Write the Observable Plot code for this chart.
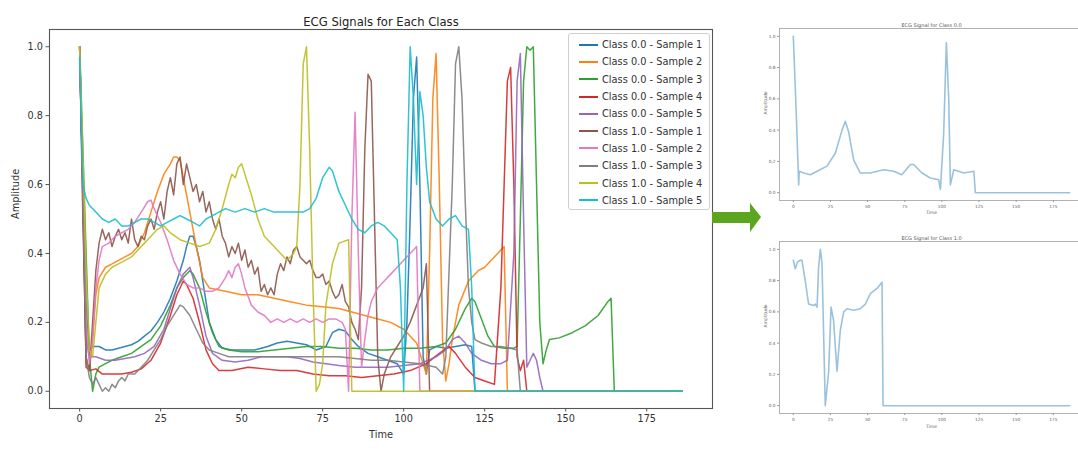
<!DOCTYPE html>
<html>
<head>
<meta charset="utf-8">
<script src="https://cdn.jsdelivr.net/npm/d3@7"></script>
<script src="https://cdn.jsdelivr.net/npm/@observablehq/plot@0.6"></script>
<style>
  html, body { margin: 0; padding: 0; background: #fff; }
  #fig { position: relative; width: 1078px; height: 459px; overflow: hidden; background: #fff; font-family: "DejaVu Sans", sans-serif; }
  #fig > * { position: absolute; }
  .legend { box-sizing: border-box; border: 1px solid #cfcfcf; border-radius: 3px; background: rgba(255,255,255,0.85); padding: 2px 0 0 10px; font-size: 9.8px; color: #333; }
  .legend .row { height: 17.3px; display: flex; align-items: center; white-space: nowrap; }
  .legend .sw { width: 19px; height: 2px; margin-right: 4px; }
</style>
</head>
<body>
<div id="fig"></div>
<script>
// ---------- data ----------
const seriesLabels = [
  "Class 0.0 - Sample 1", "Class 0.0 - Sample 2", "Class 0.0 - Sample 3",
  "Class 0.0 - Sample 4", "Class 0.0 - Sample 5", "Class 1.0 - Sample 1",
  "Class 1.0 - Sample 2", "Class 1.0 - Sample 3", "Class 1.0 - Sample 4",
  "Class 1.0 - Sample 5"
];
const seriesColors = ["#1f77b4", "#ff7f0e", "#2ca02c", "#d62728", "#9467bd",
                      "#8c564b", "#e377c2", "#7f7f7f", "#bcbd22", "#17becf"];

const c0s1 = [[0,0.97],[1,0.6],[2,0.25],[3,0.12],[4,0.13],[6,0.13],[8,0.12],[10,0.12],[12,0.125],[14,0.13],[16,0.135],[18,0.145],[20,0.16],[22,0.175],[24,0.2],[26,0.23],[28,0.27],[30,0.32],[32,0.38],[33,0.42],[34,0.45],[35,0.45],[36,0.42],[37,0.38],[38,0.32],[39,0.26],[40,0.2],[42,0.15],[44,0.125],[47,0.12],[50,0.12],[54,0.12],[58,0.13],[61,0.14],[64,0.145],[67,0.14],[70,0.135],[73,0.12],[76,0.13],[78,0.17],[80,0.18],[82,0.175],[84,0.15],[86,0.13],[89,0.11],[92,0.1],[95,0.09],[98,0.08],[100,0.05],[101,0.2],[102,0.5],[103,0.85],[104,0.97],[105,0.6],[106,0.1],[107,0.05],[108,0.12],[110,0.13],[113,0.125],[116,0.13],[119,0.135],[121,0.13],[122,0.0],[186,0.0]];
const c0s2 = [[0,1.0],[1,0.6],[2,0.08],[3,0.06],[4,0.15],[5,0.28],[6,0.33],[8,0.36],[10,0.37],[12,0.38],[14,0.39],[16,0.4],[18,0.42],[20,0.46],[22,0.52],[24,0.58],[26,0.63],[28,0.66],[29,0.68],[30,0.68],[31,0.67],[32,0.62],[34,0.52],[36,0.42],[38,0.33],[40,0.3],[45,0.29],[50,0.28],[55,0.28],[60,0.27],[65,0.26],[70,0.25],[75,0.245],[80,0.24],[84,0.23],[88,0.22],[92,0.21],[96,0.2],[100,0.18],[104,0.14],[106,0.08],[107,0.05],[108,0.4],[109,0.85],[110,0.98],[111,0.6],[112,0.15],[113,0.03],[114,0.08],[115,0.15],[117,0.25],[120,0.32],[123,0.35],[125,0.36],[127,0.38],[130,0.41],[131,0.42],[132,0.0],[186,0.0]];
const c0s3 = [[0,1.0],[1,0.7],[2,0.4],[3,0.1],[4,0.0],[5,0.05],[6,0.07],[8,0.08],[10,0.09],[13,0.1],[16,0.11],[19,0.13],[22,0.15],[25,0.19],[28,0.25],[30,0.3],[32,0.33],[34,0.35],[35,0.34],[37,0.3],[39,0.23],[41,0.17],[43,0.13],[46,0.12],[50,0.115],[55,0.115],[60,0.12],[65,0.125],[70,0.13],[75,0.13],[80,0.125],[85,0.125],[90,0.12],[95,0.12],[100,0.125],[105,0.125],[110,0.13],[113,0.14],[116,0.18],[119,0.24],[121,0.27],[122,0.26],[124,0.21],[126,0.16],[128,0.13],[131,0.125],[134,0.125],[135,0.13],[136,0.5],[137,0.9],[138,1.0],[139,0.99],[140,1.0],[141,0.6],[142,0.2],[143,0.08],[144,0.12],[145,0.15],[148,0.155],[152,0.17],[156,0.19],[160,0.22],[163,0.26],[164,0.27],[165,0.0],[186,0.0]];
const c0s4 = [[0,1.0],[1,0.55],[2,0.07],[3,0.06],[5,0.065],[7,0.05],[10,0.05],[13,0.05],[16,0.055],[19,0.065],[22,0.09],[25,0.14],[28,0.22],[30,0.28],[32,0.32],[33,0.31],[35,0.27],[37,0.2],[39,0.12],[41,0.08],[43,0.06],[47,0.06],[52,0.07],[57,0.065],[62,0.06],[67,0.06],[72,0.05],[77,0.045],[82,0.045],[87,0.04],[92,0.045],[97,0.05],[102,0.06],[107,0.08],[111,0.11],[114,0.13],[116,0.11],[119,0.07],[122,0.04],[125,0.03],[128,0.02],[130,0.3],[132,0.9],[133,0.94],[134,0.6],[135,0.1],[136,0.06],[137,0.09],[138,0.0],[186,0.0]];
const c0s5 = [[0,1.0],[1,0.6],[2,0.15],[3,0.1],[5,0.1],[8,0.09],[11,0.09],[14,0.095],[17,0.1],[20,0.11],[23,0.13],[26,0.18],[28,0.24],[30,0.3],[32,0.34],[34,0.36],[35,0.33],[37,0.25],[39,0.16],[41,0.11],[44,0.09],[48,0.085],[52,0.09],[56,0.1],[60,0.1],[64,0.1],[68,0.095],[72,0.085],[76,0.08],[80,0.075],[85,0.07],[90,0.07],[95,0.07],[100,0.075],[105,0.08],[110,0.1],[113,0.12],[115,0.15],[117,0.16],[119,0.14],[121,0.11],[124,0.09],[127,0.08],[130,0.08],[132,0.09],[134,0.4],[135,0.9],[136,0.98],[137,0.5],[138,0.07],[139,0.09],[140,0.11],[141,0.09],[142,0.04],[143,0.0],[186,0.0]];
const c1s1 = [[0,1.0],[1,0.5],[2,0.1],[3,0.06],[4,0.2],[5,0.35],[6,0.43],[7,0.47],[8,0.44],[9,0.46],[10,0.42],[11,0.45],[12,0.47],[13,0.44],[14,0.46],[15,0.43],[16,0.5],[17,0.44],[18,0.42],[19,0.45],[20,0.44],[21,0.48],[22,0.5],[23,0.47],[24,0.52],[25,0.55],[26,0.5],[27,0.58],[28,0.62],[29,0.57],[30,0.66],[31,0.68],[32,0.6],[33,0.66],[34,0.62],[35,0.58],[36,0.6],[37,0.55],[38,0.58],[39,0.52],[40,0.55],[41,0.5],[42,0.47],[43,0.5],[44,0.45],[45,0.43],[46,0.39],[47,0.42],[48,0.4],[49,0.43],[50,0.38],[51,0.41],[52,0.36],[53,0.38],[54,0.34],[55,0.36],[56,0.29],[57,0.31],[58,0.28],[59,0.3],[60,0.28],[61,0.34],[62,0.37],[63,0.35],[64,0.39],[65,0.37],[66,0.41],[67,0.42],[68,0.39],[69,0.38],[70,0.37],[71,0.38],[72,0.35],[73,0.33],[74,0.33],[75,0.34],[76,0.31],[77,0.32],[78,0.29],[79,0.27],[80,0.28],[81,0.31],[82,0.26],[83,0.245],[84,0.2],[85,0.18],[86,0.15],[87,0.3],[88,0.7],[89,0.92],[90,0.9],[91,0.5],[92,0.1],[93,0.0],[94,0.05],[96,0.1],[98,0.13],[100,0.16],[102,0.2],[104,0.25],[106,0.3],[107,0.37],[108,0.0],[186,0.0]];
const c1s2 = [[0,1.0],[1,0.6],[2,0.2],[3,0.08],[4,0.15],[5,0.3],[6,0.38],[7,0.42],[9,0.43],[11,0.45],[13,0.46],[15,0.47],[17,0.49],[19,0.52],[21,0.55],[22,0.555],[23,0.53],[25,0.49],[27,0.44],[29,0.38],[31,0.34],[33,0.31],[35,0.3],[37,0.3],[39,0.29],[41,0.29],[43,0.3],[45,0.33],[46,0.35],[47,0.33],[48,0.36],[49,0.37],[50,0.34],[51,0.3],[53,0.25],[55,0.23],[57,0.22],[59,0.2],[61,0.21],[63,0.2],[65,0.21],[67,0.2],[69,0.21],[71,0.2],[73,0.21],[75,0.2],[77,0.21],[79,0.21],[81,0.2],[82,0.18],[83,0.0],[84,0.5],[85,0.81],[86,0.4],[87,0.07],[88,0.15],[89,0.22],[90,0.26],[92,0.3],[94,0.32],[96,0.34],[98,0.36],[100,0.38],[102,0.4],[104,0.42],[105,0.0],[186,0.0]];
const c1s3 = [[0,1.0],[1,0.6],[2,0.1],[3,0.04],[4,0.02],[5,0.04],[6,0.02],[7,0.0],[8,0.01],[9,0.0],[10,0.02],[11,0.01],[12,0.03],[13,0.04],[14,0.03],[15,0.05],[17,0.05],[19,0.07],[21,0.09],[23,0.12],[25,0.15],[27,0.19],[29,0.22],[31,0.25],[32,0.245],[34,0.22],[36,0.18],[38,0.14],[40,0.12],[43,0.11],[46,0.1],[50,0.1],[55,0.1],[60,0.1],[65,0.1],[70,0.1],[75,0.1],[80,0.1],[85,0.095],[90,0.09],[95,0.09],[100,0.085],[105,0.08],[110,0.07],[112,0.05],[113,0.1],[115,0.6],[116,0.95],[117,1.0],[118,0.85],[119,0.55],[120,0.3],[121,0.2],[122,0.15],[124,0.14],[127,0.13],[130,0.13],[133,0.125],[135,0.12],[136,0.0],[186,0.0]];
const c1s4 = [[0,1.0],[1,0.7],[2,0.35],[3,0.12],[4,0.1],[5,0.2],[6,0.3],[8,0.34],[10,0.36],[12,0.37],[14,0.38],[16,0.39],[18,0.41],[20,0.43],[22,0.45],[24,0.47],[26,0.48],[28,0.46],[31,0.44],[34,0.43],[37,0.42],[40,0.43],[42,0.47],[44,0.53],[46,0.6],[47,0.63],[48,0.62],[49,0.65],[50,0.66],[51,0.63],[53,0.57],[55,0.5],[57,0.45],[60,0.42],[62,0.4],[64,0.38],[66,0.4],[67,0.42],[68,0.6],[69,0.95],[70,1.0],[71,0.7],[72,0.3],[73,0.0],[74,0.02],[75,0.08],[76,0.25],[78,0.37],[80,0.43],[83,0.44],[84,0.0],[186,0.0]];
const c1s5 = [[0,0.97],[1,0.6],[2,0.56],[3,0.54],[5,0.52],[7,0.5],[9,0.49],[11,0.5],[13,0.48],[15,0.48],[17,0.49],[19,0.5],[21,0.5],[23,0.49],[25,0.48],[27,0.49],[29,0.5],[31,0.51],[33,0.5],[35,0.49],[37,0.48],[39,0.5],[41,0.51],[43,0.52],[45,0.53],[48,0.52],[51,0.53],[54,0.52],[57,0.53],[60,0.52],[63,0.52],[66,0.52],[69,0.52],[71,0.53],[73,0.56],[75,0.62],[77,0.65],[78,0.64],[80,0.58],[82,0.54],[84,0.5],[86,0.47],[88,0.46],[90,0.48],[92,0.49],[94,0.48],[96,0.46],[98,0.44],[99,0.3],[100,0.0],[101,0.6],[102,1.0],[103,0.85],[104,0.6],[105,0.87],[106,0.8],[107,0.65],[108,0.55],[110,0.5],[112,0.48],[114,0.5],[116,0.51],[118,0.48],[120,0.47],[121,0.3],[122,0.0],[186,0.0]];
const allSeries = [c0s1, c0s2, c0s3, c0s4, c0s5, c1s1, c1s2, c1s3, c1s4, c1s5];

// single-beat panels on the right
const panelClass0 = [[0,1.0],[2,0.5],[3.6,0.05],[4,0.137],[7,0.126],[11.4,0.115],[16,0.137],[22.7,0.17],[28.3,0.254],[32.8,0.40],[35,0.457],[37.2,0.39],[40.6,0.21],[45,0.126],[51.8,0.126],[60.8,0.147],[67.5,0.137],[73,0.115],[78.8,0.18],[81,0.18],[86.6,0.126],[92.2,0.094],[97.8,0.083],[99,0.02],[101.2,0.38],[103,0.96],[104.6,0.6],[105.7,0.05],[108,0.147],[114.8,0.126],[121.5,0.137],[122.5,0.0],[186,0.0]];
const panelClass1 = [[0,0.93],[1.3,0.876],[2.9,0.92],[4.7,0.93],[5.8,0.93],[8,0.80],[10.3,0.65],[13.7,0.64],[14.8,0.65],[16,0.63],[17,0.886],[18.2,1.0],[19.3,0.91],[21.5,0.0],[23.8,0.22],[25.4,0.63],[27.1,0.545],[29.4,0.22],[31.6,0.48],[33.9,0.6],[36.1,0.62],[40.6,0.61],[45,0.62],[48.5,0.65],[51.8,0.716],[56.3,0.75],[59.7,0.79],[60.4,0.0],[186,0.0]];

const xTicks = [0, 25, 50, 75, 100, 125, 150, 175];
const yTicks = [0.0, 0.2, 0.4, 0.6, 0.8, 1.0];
const yTickLabels = ["0.0", "0.2", "0.4", "0.6", "0.8", "1.0"];
const mainTitle = "ECG Signals for Each Class";
const panelTitles = ["ECG Signal for Class 0.0", "ECG Signal for Class 1.0"];

// ---------- drawing ----------
const fig = document.getElementById("fig");
const toRows = (arr) => arr.map(([t, v]) => ({t, v}));
const yFmt = (d) => yTickLabels[yTicks.findIndex(y => Math.abs(y - d) < 1e-9)];

const main = Plot.plot({
  width: 712, height: 459,
  marginLeft: 49, marginRight: 0, marginTop: 29, marginBottom: 51,
  style: {fontFamily: "DejaVu Sans, sans-serif", fontSize: "9.7px", color: "#333", background: "transparent", overflow: "visible"},
  x: {domain: [-9.3, 195.3]},
  y: {domain: [-0.05, 1.05]},
  marks: [
    ...allSeries.map((s, i) => Plot.line(toRows(s), {x: "t", y: "v", stroke: seriesColors[i], strokeWidth: 1.5, strokeOpacity: 0.9})),
    Plot.frame({stroke: "#555", strokeWidth: 1.1}),
    Plot.axisX({ticks: xTicks, tickSize: 3.5, tickPadding: 3, tickFormat: d => String(d), label: null, stroke: "#555"}),
    Plot.axisY({ticks: yTicks, tickSize: 3.5, tickPadding: 3, tickFormat: yFmt, label: null, stroke: "#555"}),
    Plot.text([mainTitle], {frameAnchor: "top", dy: -12, fontSize: 11.6, fill: "#222"}),
    Plot.text(["Time"], {frameAnchor: "bottom", dy: 29, fontSize: 9.8, fill: "#333"}),
    Plot.text(["Amplitude"], {frameAnchor: "left", dx: -34, rotate: -90, fontSize: 9.8, fill: "#333"})
  ]
});
main.style.left = "0px"; main.style.top = "0px";
fig.appendChild(main);

// legend
const legend = document.createElement("div");
legend.className = "legend";
Object.assign(legend.style, {left: "568px", top: "33px", width: "142px", height: "177px"});
seriesLabels.forEach((lab, i) => {
  const row = document.createElement("div");
  row.className = "row";
  const sw = document.createElement("span");
  sw.className = "sw";
  sw.style.background = seriesColors[i];
  row.appendChild(sw);
  row.appendChild(document.createTextNode(lab));
  legend.appendChild(row);
});
fig.appendChild(legend);

// arrow
const arrow = d3.create("svg").attr("width", 52).attr("height", 34)
  .style("left", "711px").style("top", "201px");
arrow.append("path")
  .attr("d", "M1,11 L39,11 L39,2 L50,16 L39,31 L39,22 L1,22 Z")
  .attr("fill", "#5ca51e");
fig.appendChild(arrow.node());

// small panels
function panel(data, title, top, mTop, mBottom, timeDy) {
  const p = Plot.plot({
    width: 334, height: 222,
    marginLeft: 30, marginRight: 0, marginTop: mTop, marginBottom: mBottom,
    style: {fontFamily: "DejaVu Sans, sans-serif", fontSize: "4.3px", color: "#666", background: "transparent", overflow: "visible"},
    x: {domain: [-9.3, 195.3]},
    y: {domain: [-0.05, 1.05]},
    marks: [
      Plot.line(toRows(data), {x: "t", y: "v", stroke: "#1f77b4", strokeOpacity: 0.45, strokeWidth: 1.6}),
      Plot.frame({stroke: "#aaa", strokeWidth: 0.9}),
      Plot.axisX({ticks: xTicks, tickSize: 2, tickPadding: 2, tickFormat: d => String(d), label: null, stroke: "#999"}),
      Plot.axisY({ticks: yTicks, tickSize: 2, tickPadding: 2, tickFormat: yFmt, label: null, stroke: "#999"}),
      Plot.text([title], {frameAnchor: "top", dy: -5, fontSize: 5, fill: "#555"}),
      Plot.text(["Time"], {frameAnchor: "bottom", dy: timeDy, fontSize: 4.5, fill: "#666"}),
      Plot.text(["Amplitude"], {frameAnchor: "left", dx: -14, rotate: -90, fontSize: 4.5, fill: "#666"})
    ]
  });
  p.style.left = "749px"; p.style.top = top + "px";
  fig.appendChild(p);
}
panel(panelClass0, panelTitles[0], 0, 28, 22, 13);
panel(panelClass1, panelTitles[1], 220, 21, 29, 14);
</script>
</body>
</html>
